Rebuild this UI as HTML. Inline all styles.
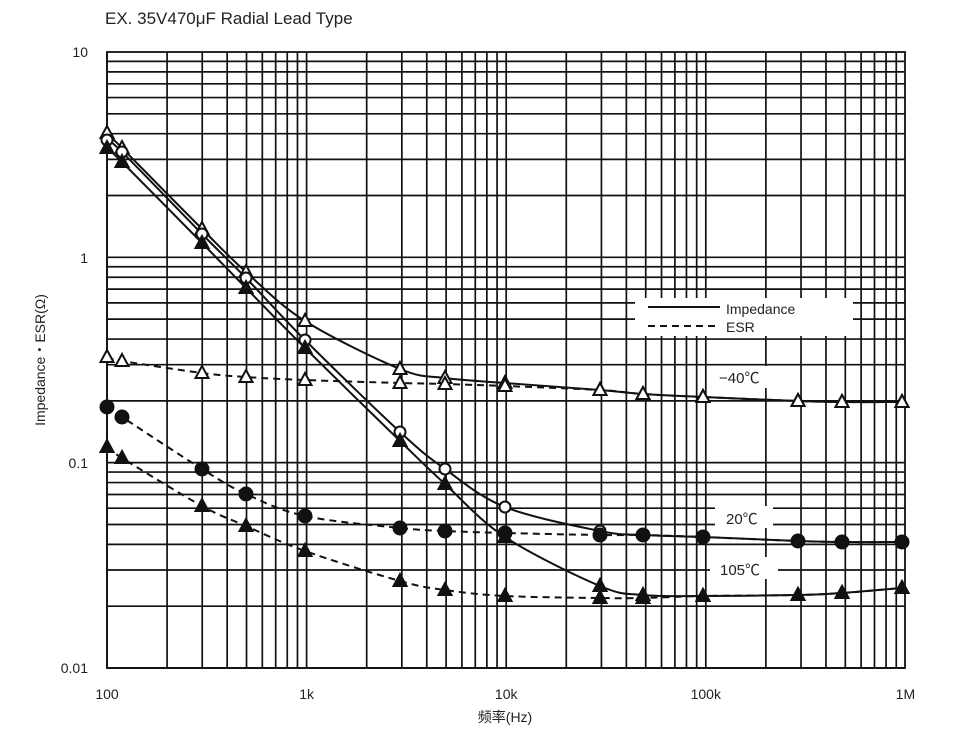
<!DOCTYPE html><html><head><meta charset="utf-8"><style>body{margin:0;background:#fff}svg{display:block}text{font-family:"Liberation Sans","Noto Sans CJK SC",sans-serif;fill:#222}</style></head><body>
<svg id="s" width="959" height="731" xmlns="http://www.w3.org/2000/svg"></svg>
<script>
const s=document.getElementById('s');let h='';
const X=f=>107+(Math.log10(f)-2)*199.6, Y=v=>52+(1-Math.log10(v))*205.33;
for(let d=2;d<6;d++)for(let m=1;m<10;m++){const x=X(m*10**d);h+=`<line x1="${x}" y1="52" x2="${x}" y2="668" stroke="#111" stroke-width="1.7"/>`}
for(let d=-2;d<1;d++)for(let m=1;m<10;m++){const y=Y(m*10**d);h+=`<line x1="107" y1="${y}" x2="905" y2="${y}" stroke="#111" stroke-width="1.7"/>`}
h+=`<rect x="107" y="52" width="798" height="616" fill="none" stroke="#111" stroke-width="1.8"/>`;
h+=`<rect x="635" y="298" width="218" height="38" fill="#fff"/><line x1="648" y1="307" x2="720" y2="307" stroke="#111" stroke-width="2"/><line x1="648" y1="326" x2="720" y2="326" stroke="#111" stroke-width="2" stroke-dasharray="7,5"/><text x="726" y="314" font-size="14">Impedance</text><text x="726" y="332" font-size="14">ESR</text>`;
h+=`<rect x="715" y="366" width="56" height="22" fill="#fff"/><text x="719" y="383" font-size="15">−40℃</text>`;
h+=`<rect x="715" y="506" width="58" height="22" fill="#fff"/><text x="726" y="524" font-size="15">20℃</text>`;
h+=`<rect x="710" y="557" width="68" height="22" fill="#fff"/><text x="720" y="575" font-size="15">105℃</text>`;
const P=(p,dash)=>{let d=`M${p[0][0]},${p[0][1]}`;for(let i=0;i<p.length-1;i++){const a=p[i-1]||p[i],b=p[i],c=p[i+1],e=p[i+2]||c;d+=` C${b[0]+(c[0]-a[0])/6},${b[1]+(c[1]-a[1])/6} ${c[0]-(e[0]-b[0])/6},${c[1]-(e[1]-b[1])/6} ${c[0]},${c[1]}`}return `<path d="${d}" fill="none" stroke="#111" stroke-width="2" ${dash?'stroke-dasharray="7,5"':''}/>`};
const tri=(x,y,fill)=>`<path d="M${x},${y-7} L${x+6.5},${y+5} L${x-6.5},${y+5}Z" fill="${fill}" stroke="#111" stroke-width="2"/>`;
const cir=(x,y,fill)=>`<circle cx="${x}" cy="${y}" r="${fill=='#fff'?5.5:6.5}" fill="${fill}" stroke="#111" stroke-width="2"/>`;
const xs=[107,122,202,246,305,400,445,505,600,643,703,798,842,902];
const sets=[
 [[133,148,229,272,321,369,378,383,390,394,397,401,402,402],0,tri,'#fff'],
 [[357,361,373,377,380,383,384,386,390,394,397,401,402,402],1,tri,'#fff'],
 [[140,152,234,278,340,432,469,507,531,535,537,541,542,542],0,cir,'#fff'],
 [[407,417,469,494,516,528,531,533,535,535,537,541,542,542],1,cir,'#111'],
 [[148,162,243,288,348,441,484,537,586,595,596,595,593,588],0,tri,'#111'],
 [[447,458,506,526,551,581,590,596,598,598,596,595,593,588],1,tri,'#111']];
sets.forEach(([ys,d])=>{h+=P(xs.map((x,i)=>[x,ys[i]]),d)});
sets.forEach(([ys,d,m,f])=>{xs.forEach((x,i)=>{h+=m(x,ys[i],f)})});
[[10,52],[1,258],[0.1,463],[0.01,668]].forEach(([t,y])=>h+=`<text x="88" y="${y+5}" font-size="14" text-anchor="end">${t}</text>`);
[['100',100],['1k',1e3],['10k',1e4],['100k',1e5],['1M',1e6]].forEach(([t,f])=>h+=`<text x="${X(f)}" y="699" font-size="14" text-anchor="middle">${t}</text>`);
h+=`<text x="505" y="722" font-size="14" text-anchor="middle">频率(Hz)</text>`;
h+=`<text transform="translate(45,360) rotate(-90)" font-size="14" text-anchor="middle">Impedance・ESR(Ω)</text>`;
h+=`<text x="105" y="24" font-size="17">EX. 35V470μF Radial Lead Type</text>`;
s.innerHTML=h;
</script></body></html>
